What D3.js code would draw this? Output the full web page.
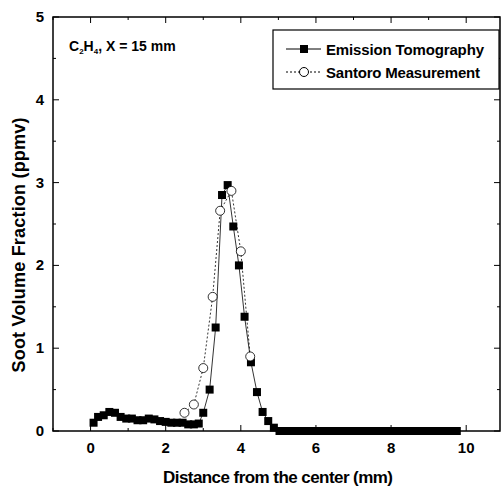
<!DOCTYPE html>
<html>
<head>
<script src="https://d3js.org/d3.v7.min.js"></script>
<style>body{margin:0;background:#fff} text{font-family:"Liberation Sans",Arial,sans-serif;font-weight:bold}</style>
</head>
<body>
<div id="chart"></div>
<script>
var emX = [0.08,0.2,0.35,0.5,0.65,0.8,0.95,1.1,1.25,1.4,1.55,1.7,1.85,2.0,2.15,2.3,2.45,2.6,2.75,2.88,
  3.0,3.17,3.33,3.5,3.65,3.8,3.95,4.1,4.27,4.43,4.58,4.73,4.88,
  5.03,5.19,5.35,5.5,5.66,5.82,5.97,6.13,6.29,6.44,6.6,6.76,6.91,7.07,7.23,7.38,7.54,7.7,7.85,8.01,8.17,8.32,8.48,8.64,8.79,8.95,9.11,9.26,9.42,9.58,9.75];
var emY = [0.1,0.17,0.19,0.23,0.22,0.17,0.15,0.15,0.13,0.13,0.15,0.14,0.12,0.11,0.10,0.10,0.10,0.08,0.08,0.09,
  0.22,0.5,1.25,2.85,2.97,2.47,2.0,1.38,0.83,0.47,0.23,0.12,0.04,
  0,0,0,0,0,0,0,0,0,0,0,0,0,0,0,0,0,0,0,0,0,0,0,0,0,0,0,0,0,0,0];
var saX = [2.5,2.75,3.0,3.25,3.45,3.75,4.0,4.25];
var saY = [0.22,0.32,0.76,1.62,2.66,2.9,2.17,0.9];
var xTicks = [0,2,4,6,8,10];
var yTicks = [0,1,2,3,4,5];

var W = 501, H = 491, L = 53, R = 500, T = 17, B = 431;
var svg = d3.select("#chart").append("svg").attr("width", W).attr("height", H);
var x = d3.scaleLinear().domain([-1, 10.9]).range([L, R]);
var y = d3.scaleLinear().domain([0, 5]).range([B, T]);

svg.append("rect").attr("x", L).attr("y", T).attr("width", R - L).attr("height", B - T)
  .attr("fill", "none").attr("stroke", "#000").attr("stroke-width", 1.5);

var g = svg.append("g");
d3.range(-1, 11, 1).forEach(function(v) {
  var len = v % 2 === 0 ? 6 : 3;
  g.append("line").attr("x1", x(v)).attr("x2", x(v)).attr("y1", B).attr("y2", B - len).attr("stroke", "#000");
  g.append("line").attr("x1", x(v)).attr("x2", x(v)).attr("y1", T).attr("y2", T + len).attr("stroke", "#000");
});
d3.range(0, 5.01, 0.5).forEach(function(v) {
  var len = v % 1 === 0 ? 6 : 3;
  g.append("line").attr("x1", L).attr("x2", L + len).attr("y1", y(v)).attr("y2", y(v)).attr("stroke", "#000");
  g.append("line").attr("x1", R).attr("x2", R - len).attr("y1", y(v)).attr("y2", y(v)).attr("stroke", "#000");
});
g.selectAll(".xl").data(xTicks).enter().append("text").attr("x", function(d){return x(d);}).attr("y", B + 22)
  .attr("text-anchor", "middle").attr("font-size", 15).text(function(d){return d;});
g.selectAll(".yl").data(yTicks).enter().append("text").attr("x", L - 9).attr("y", function(d){return y(d) + 5;})
  .attr("text-anchor", "end").attr("font-size", 15).text(function(d){return d;});

svg.append("text").attr("x", 278).attr("y", 483).attr("text-anchor", "middle").attr("font-size", 17)
  .attr("textLength", 230).text("Distance from the center (mm)");
svg.append("text").attr("transform", "translate(25,245) rotate(-90)").attr("text-anchor", "middle")
  .attr("font-size", 18).attr("textLength", 255).text("Soot Volume Fraction (ppmv)");

var ann = svg.append("text").attr("x", 69).attr("y", 51).attr("font-size", 14);
ann.append("tspan").text("C");
ann.append("tspan").attr("font-size", 8).attr("dy", 3).text("2");
ann.append("tspan").attr("dy", -3).text("H");
ann.append("tspan").attr("font-size", 8).attr("dy", 3).text("4");
ann.append("tspan").attr("dy", -3).text(", X = 15 mm");

var em = emX.map(function(d, i){return [d, emY[i]];});
var sa = saX.map(function(d, i){return [d, saY[i]];});
var line = d3.line().x(function(d){return x(d[0]);}).y(function(d){return y(d[1]);});

svg.append("path").datum(sa).attr("d", line).attr("fill", "none").attr("stroke", "#000")
  .attr("stroke-width", 0.8).attr("stroke-dasharray", "2,2");
svg.append("path").datum(em).attr("d", line).attr("fill", "none").attr("stroke", "#000").attr("stroke-width", 0.8);
svg.selectAll(".sq").data(em).enter().append("rect")
  .attr("x", function(d){return x(d[0]) - 4;}).attr("y", function(d){return y(d[1]) - 4;})
  .attr("width", 8).attr("height", 8).attr("fill", "#000");
svg.selectAll(".ci").data(sa).enter().append("circle")
  .attr("cx", function(d){return x(d[0]);}).attr("cy", function(d){return y(d[1]);}).attr("r", 4.5)
  .attr("fill", "#fff").attr("stroke", "#000").attr("stroke-width", 0.8);

// legend
var lg = svg.append("g");
lg.append("rect").attr("x", 273).attr("y", 30).attr("width", 226).attr("height", 59)
  .attr("fill", "#fff").attr("stroke", "#000").attr("stroke-width", 1.2);
lg.append("line").attr("x1", 286).attr("x2", 321).attr("y1", 49).attr("y2", 49).attr("stroke", "#000");
lg.append("rect").attr("x", 300).attr("y", 45).attr("width", 8).attr("height", 8).attr("fill", "#000");
lg.append("text").attr("x", 326).attr("y", 55).attr("font-size", 15).attr("textLength", 158).text("Emission Tomography");
lg.append("line").attr("x1", 286).attr("x2", 321).attr("y1", 72).attr("y2", 72).attr("stroke", "#000").attr("stroke-dasharray", "2,2");
lg.append("circle").attr("cx", 304).attr("cy", 72).attr("r", 4.5).attr("fill", "#fff").attr("stroke", "#000");
lg.append("text").attr("x", 326).attr("y", 78).attr("font-size", 15).attr("textLength", 154).text("Santoro Measurement");
</script>
</body>
</html>
